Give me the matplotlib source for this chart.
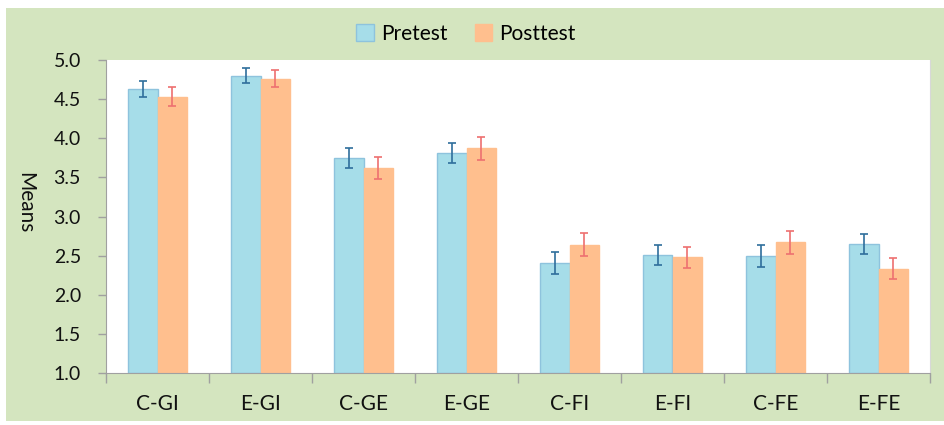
import matplotlib.pyplot as plt
import numpy as np
from matplotlib.patches import Rectangle, Patch

categories = ["C-GI", "E-GI", "C-GE", "E-GE", "C-FI", "E-FI", "C-FE", "E-FE"]
pretest = [4.63, 4.80, 3.75, 3.81, 2.41, 2.51, 2.50, 2.65]
pretest_err = [0.10, 0.10, 0.13, 0.13, 0.14, 0.13, 0.14, 0.13]
posttest = [4.53, 4.76, 3.62, 3.87, 2.64, 2.48, 2.67, 2.33]
posttest_err = [0.12, 0.11, 0.145, 0.145, 0.15, 0.135, 0.145, 0.135]
yticks = [1.0, 1.5, 2.0, 2.5, 3.0, 3.5, 4.0, 4.5, 5.0]

W, H = 944, 425
fig = plt.figure(figsize=(W/100, H/100), dpi=100, facecolor="white")
green = "#D4E5BF"
fig.patches.append(Rectangle((6/W, 4/H), 1 - 6/W, 1 - 12/H, transform=fig.transFigure,
                             facecolor=green, edgecolor="none", zorder=-10))

ax = fig.add_axes([106/W, 1 - 373/H, (930-106)/W, (373-60)/H])
ax.set_facecolor("white")

font = "Lato"
x = np.arange(len(categories))
bw = 0.287
pre_col = "#A6DDE9"
pre_edge = "#8EC3DD"
post_col = "#FFBF8E"
pre_ecol = "#2F6E9C"
post_ecol = "#EE7070"

ax.bar(x - bw/2, [v - 1 for v in pretest], bw, bottom=1, color=pre_col, edgecolor=pre_edge, linewidth=1, zorder=2)
ax.bar(x + bw/2, [v - 1 for v in posttest], bw, bottom=1, color=post_col, edgecolor=post_col, linewidth=1, zorder=2)
ax.errorbar(x - bw/2, pretest, yerr=pretest_err, fmt="none", ecolor=pre_ecol, elinewidth=1.2, capsize=2.6, capthick=1.2, zorder=3)
ax.errorbar(x + bw/2, posttest, yerr=posttest_err, fmt="none", ecolor=post_ecol, elinewidth=1.2, capsize=2.6, capthick=1.2, zorder=3)

ax.set_xlim(-0.5, len(categories) - 0.5)
ax.set_ylim(1.0, 5.0)
ax.set_yticks(yticks)
ax.set_yticklabels([f"{t:.1f}" for t in yticks], fontsize=14, family=font, color="#111111")
ax.set_xticks(x)
ax.set_xticklabels(categories, fontsize=15, family=font, color="#111111")
ax.tick_params(axis="x", length=0, pad=15)
ax.set_xticks(np.arange(len(categories) + 1) - 0.5, minor=True)
ax.tick_params(axis="x", which="minor", length=7, color="#A0A0A0", width=1)
ax.tick_params(axis="y", length=6, color="#A0A0A0", width=1, pad=12)

ax.spines["top"].set_visible(False)
ax.spines["right"].set_color("#D8D8D8")
ax.spines["left"].set_color("#A0A0A0")
ax.spines["bottom"].set_color("#A0A0A0")

ax.set_ylabel("Means", fontsize=15, family=font, color="#111111", rotation=270, va="center")
ax.yaxis.set_label_coords((25 - 106) / 824, (373 - 203) / 313)

handles = [Patch(facecolor=pre_col, edgecolor=pre_edge), Patch(facecolor=post_col, edgecolor=post_col)]
fig.legend(handles, ["Pretest", "Posttest"], loc="center", bbox_to_anchor=(466/W, 1 - 34/H),
           ncol=2, frameon=False, prop={"family": font, "size": 15}, handlelength=0.85, handleheight=0.85,
           columnspacing=1.3, handletextpad=0.35)

fig.savefig("out.png", dpi=100, facecolor="white")
